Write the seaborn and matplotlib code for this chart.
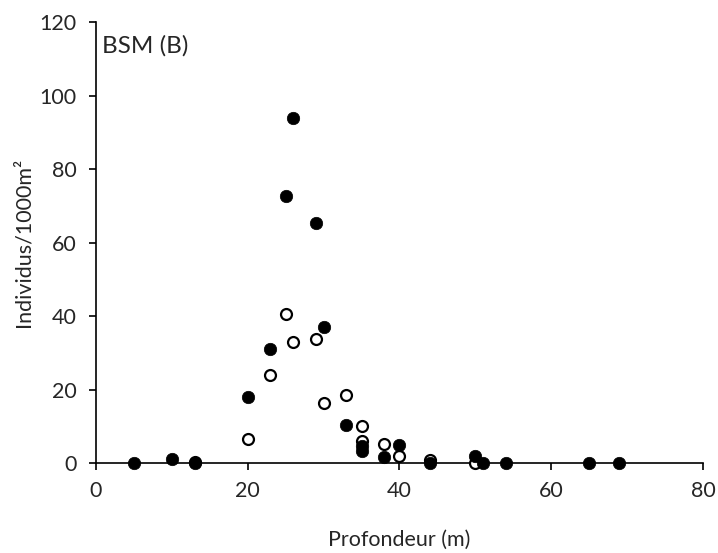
import matplotlib
matplotlib.use("Agg")
import matplotlib.pyplot as plt
import seaborn as sns
import pandas as pd

# filled markers
depth_filled = [5, 10, 13, 20, 23, 25, 26, 29, 30, 33, 35, 35, 38, 40, 44, 50, 51, 54, 65, 69]
dens_filled = [0, 1.2, 0, 18, 31, 72.7, 94, 65.3, 37, 10.3, 4.5, 3.2, 1.6, 4.8, 0, 1.9, 0, 0, 0, 0]

# open markers
depth_open = [13, 20, 23, 25, 26, 29, 30, 33, 35, 35, 38, 40, 44, 50]
dens_open = [0.3, 6.5, 24, 40.5, 32.9, 33.8, 16.3, 18.5, 10.2, 6.0, 5.1, 1.8, 0.8, 0]

xticks = [0, 20, 40, 60, 80]
yticks = [0, 20, 40, 60, 80, 100, 120]

sns.set_style("ticks")
plt.rcParams['font.family'] = ['Lato', 'DejaVu Sans']

fig = plt.figure(figsize=(7.18, 5.53), dpi=100)
ax = fig.add_axes([0.1337, 0.1627, 0.8453, 0.7973])

df_open = pd.DataFrame({'x': depth_open, 'y': dens_open})
df_filled = pd.DataFrame({'x': depth_filled, 'y': dens_filled})

sns.scatterplot(data=df_open, x='x', y='y', ax=ax, marker='o', s=62,
                facecolor='white', edgecolor='black', linewidth=1.6, zorder=3, clip_on=False)
sns.scatterplot(data=df_filled, x='x', y='y', ax=ax, marker='o', s=80,
                color='black', edgecolor='black', linewidth=0.5, zorder=4, clip_on=False)

ax.set_xlim(0, 80)
ax.set_ylim(0, 120)
ax.set_xticks(xticks)
ax.set_yticks(yticks)
ax.tick_params(axis='both', direction='out', length=5, width=1.2, labelsize=15.5,
               colors='black', labelcolor='#262626')
ax.tick_params(axis='y', pad=9)
ax.tick_params(axis='x', pad=8)
for side in ['top', 'right']:
    ax.spines[side].set_visible(False)
for side in ['left', 'bottom']:
    ax.spines[side].set_linewidth(1.2)
    ax.spines[side].set_color('black')

ax.set_xlabel('Profondeur (m)', fontsize=15.5, labelpad=21, color='#262626')
ax.set_ylabel('Individus/1000m²', fontsize=15.5, labelpad=4, color='#262626')
ax.text(0.01, 0.97, 'BSM (B)', transform=ax.transAxes, fontsize=17.5, va='top', ha='left',
        color='#262626')

fig.savefig('out.png', dpi=100)
